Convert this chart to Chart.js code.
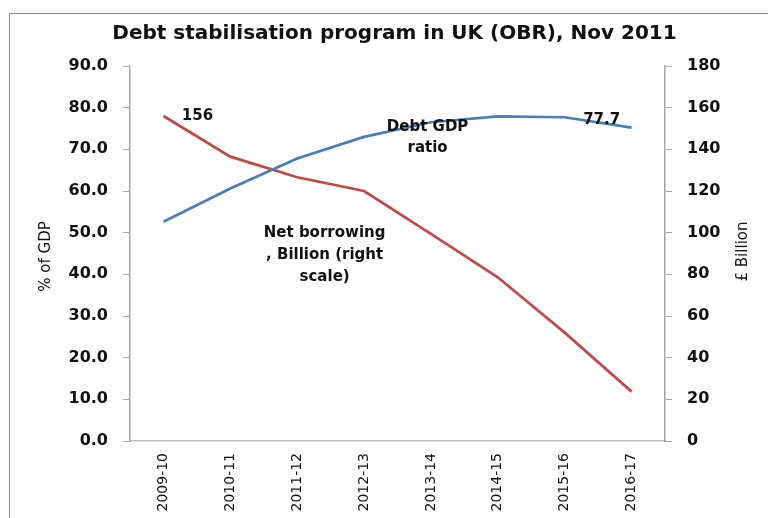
<!DOCTYPE html>
<html>
<head>
<meta charset="UTF-8">
<title>Debt stabilisation program</title>
<script src="https://cdn.jsdelivr.net/npm/chart.js@4.4.0/dist/chart.umd.min.js"></script>
<style>
  html, body { margin: 0; padding: 0; background: #fff; overflow: hidden; }
  #wrap { width: 768px; height: 518px; position: relative; }
</style>
</head>
<body>
<div id="wrap"><canvas id="myChart" width="768" height="518"></canvas></div>

<script>
// data
var years = ['2009-10', '2010-11', '2011-12', '2012-13', '2013-14', '2014-15', '2015-16', '2016-17'];
var debtRatio = [52.6, 60.6, 67.8, 73.0, 76.5, 77.9, 77.7, 75.2];   // % of GDP, left scale
var netBorrowing = [156, 136.5, 126.6, 120, 99.4, 78.6, 52.0, 23.7]; // £ billion, right scale
var leftTicks = [0, 10, 20, 30, 40, 50, 60, 70, 80, 90];
var rightTicks = [0, 20, 40, 60, 80, 100, 120, 140, 160, 180];
var chartTitle = 'Debt stabilisation program in UK (OBR), Nov 2011';

var FONT = "'DejaVu Sans', sans-serif";
var axisGray = '#a6a6a6';

// frame, title, axis titles and the text labels inside the plot
var extras = {
  id: 'extras',
  beforeDraw: function(chart) {
    var c = chart.ctx;
    c.save();
    c.strokeStyle = '#8c8c8c';
    c.lineWidth = 1;
    c.strokeRect(9.5, 13.5, 900, 700);
    c.restore();
  },
  afterDraw: function(chart) {
    var c = chart.ctx, x = chart.scales.x, yl = chart.scales.y, yr = chart.scales.y1;
    var area = chart.chartArea;
    c.save();
    c.fillStyle = '#111';
    c.textAlign = 'center';
    c.textBaseline = 'middle';

    c.font = 'bold 20px ' + FONT;
    c.fillText(chartTitle, (area.left + area.right) / 2 - 3, 34);

    // axis titles, both read bottom-up
    c.font = '15px ' + FONT;
    c.save();
    c.translate(46, (area.top + area.bottom) / 2 + 3);
    c.rotate(-Math.PI / 2);
    c.fillText('% of GDP', 0, 0);
    c.restore();
    c.save();
    c.translate(743, (area.top + area.bottom) / 2 - 2);
    c.rotate(-Math.PI / 2);
    c.fillText('£ Billion', 0, 0);
    c.restore();

    c.font = 'bold 15px ' + FONT;
    // value labels
    c.fillText('156', x.getPixelForValue(0) + 34, yr.getPixelForValue(netBorrowing[0]));
    c.fillText('77.7', x.getPixelForValue(6) + 37, yl.getPixelForValue(debtRatio[6]) + 3);

    // series names
    var dx = x.getPixelForValue(3.95), dy = yl.getPixelForValue(75.4);
    c.fillText('Debt GDP', dx, dy);
    c.fillText('ratio', dx, dy + 21);
    var nx = x.getPixelForValue(2.41), ny = yl.getPixelForValue(49.9);
    c.fillText('Net borrowing', nx, ny);
    c.fillText(', Billion (right', nx, ny + 22);
    c.fillText('scale)', nx, ny + 44);
    c.restore();
  }
};

var ctx = document.getElementById('myChart').getContext('2d');
var myChart = new Chart(ctx, {
  type: 'line',
  data: {
    labels: years,
    datasets: [{
      label: 'Debt GDP ratio',
      data: debtRatio,
      yAxisID: 'y',
      borderColor: '#4a7ebb',
      borderWidth: 2.75,
      pointRadius: 0,
      tension: 0
    }, {
      label: 'Net borrowing, Billion (right scale)',
      data: netBorrowing,
      yAxisID: 'y1',
      borderColor: '#be4b48',
      borderWidth: 2.75,
      pointRadius: 0,
      tension: 0
    }]
  },
  options: {
    responsive: false,
    animation: false,
    layout: { padding: { left: 0, right: 0, top: 66, bottom: 0 } },
    plugins: {
      legend: { display: false },
      tooltip: { enabled: false },
      title: { display: false }
    },
    scales: {
      x: {
        offset: true,
        grid: { display: false, drawTicks: false },
        border: { display: true, color: '#bfbfbf', width: 1.5 },
        ticks: {
          color: '#111',
          font: { family: FONT, size: 14 },
          minRotation: 90,
          maxRotation: 90,
          padding: 12,
          autoSkip: false
        },
        afterFit: function(s) { s.height = 77; }
      },
      y: {
        position: 'left',
        min: 0,
        max: 90,
        afterBuildTicks: function(s) { s.ticks = leftTicks.map(function(v) { return { value: v }; }); },
        grid: { drawOnChartArea: false, color: axisGray, tickLength: 7 },
        border: { color: axisGray, width: 1.5 },
        ticks: {
          color: '#111',
          font: { family: FONT, size: 16, weight: 'bold' },
          padding: 15,
          callback: function(v) { return Number(v).toFixed(1); }
        },
        afterFit: function(s) { s.width = 130; }
      },
      y1: {
        position: 'right',
        min: 0,
        max: 180,
        afterBuildTicks: function(s) { s.ticks = rightTicks.map(function(v) { return { value: v }; }); },
        grid: { drawOnChartArea: false, color: axisGray, tickLength: 7 },
        border: { color: axisGray, width: 1.5 },
        ticks: {
          color: '#111',
          font: { family: FONT, size: 16, weight: 'bold' },
          padding: 15
        },
        afterFit: function(s) { s.width = 103; }
      }
    }
  },
  plugins: [extras]
});
</script>
</body>
</html>
